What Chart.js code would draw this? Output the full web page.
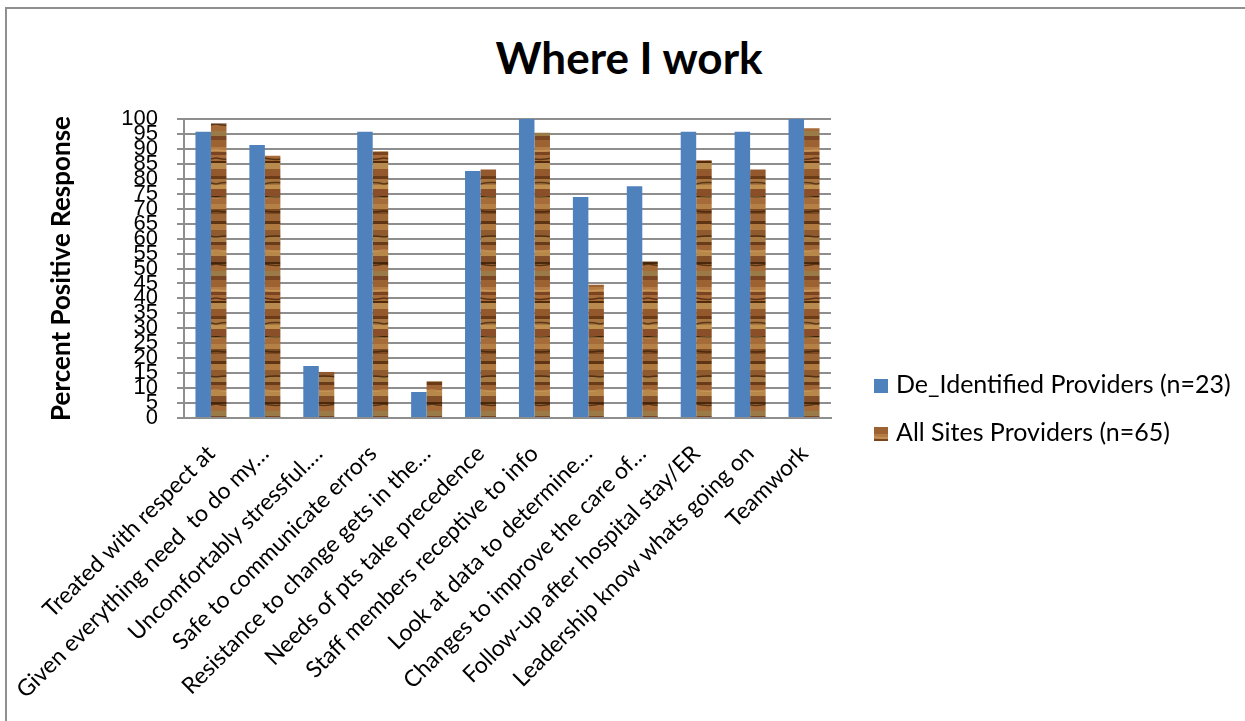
<!DOCTYPE html>
<html>
<head>
<meta charset="utf-8">
<script src="https://cdn.jsdelivr.net/npm/chart.js@4.4.1/dist/chart.umd.min.js"></script>
<style>
  html, body { margin: 0; padding: 0; background: #fff; }
  #wrap { position: relative; width: 1245px; height: 721px; overflow: hidden; }
  #frame { position: absolute; left: 5px; top: 7px; right: -10px; bottom: -10px;
           border-left: 2px solid #8f8f8f; border-top: 2px solid #8f8f8f; }
  #title { position: absolute; left: 0; width: 1258px; top: 30px; text-align: center;
           font: bold 44px Lato, sans-serif; color: #000; line-height: 54px; }
  #chart { position: absolute; left: 0; top: 0; }
  .legend-row { position: absolute; left: 874px; font: 25px Lato, sans-serif; color: #000;
                white-space: nowrap; line-height: 30px; }
  .swatch { display: inline-block; width: 14px; height: 14px; margin-right: 8px; vertical-align: 0px; }
</style>
</head>
<body>
<div id="wrap">
  <div id="frame"></div>
  <div id="title">Where I work</div>
  <canvas id="chart" width="1245" height="721"></canvas>
  <div class="legend-row" style="top:368px"><span class="swatch" id="sw0"></span><span id="lt0"></span></div>
  <div class="legend-row" style="top:416px"><span class="swatch" id="sw1"></span><span id="lt1"></span></div>
</div>
<script>
// Survey items (x categories)
const categories = [
  'Treated with respect at',
  'Given everything need  to do my…',
  'Uncomfortably stressful.…',
  'Safe to communicate errors',
  'Resistance to change gets in the…',
  'Needs of pts take precedence',
  'Staff members receptive to info',
  'Look at data to determine…',
  'Changes to improve the care of…',
  'Follow-up after hospital stay/ER',
  'Leadership know whats going on',
  'Teamwork'
];

// Series names
const seriesNames = ['De_Identified Providers (n=23)', 'All Sites Providers (n=65)'];

// Percent positive response per item
const deIdentified = [95.7, 91.3, 17.4, 95.7, 8.7, 82.6, 100, 73.9, 77.5, 95.7, 95.7, 100];
const allSites     = [98.5, 87.7, 15.4, 89.2, 12.3, 83.1, 95.4, 44.6, 52.3, 86.2, 83.1, 96.9];

// Y axis ticks
const yTicks = [0, 5, 10, 15, 20, 25, 30, 35, 40, 45, 50, 55, 60, 65, 70, 75, 80, 85, 90, 95, 100];

// Wood-grain fill for the second series
function makeWood() {
  const bands = [
    ['#9c6232', 7], ['#b47b45', 5], ['#7a4420', 3], ['#a86a38', 6], ['#4f2a0c', 2],
    ['#b98a4e', 6], ['#94582d', 7], ['#6b3a17', 3], ['#a8743f', 6], ['#c0904f', 4],
    ['#8a4f28', 7], ['#3f2208', 2], ['#a56c3a', 6], ['#b58046', 5], ['#7d4a22', 5],
    ['#9b6535', 7], ['#5f3412', 3], ['#b0793f', 6], ['#8f5a2e', 7], ['#a87b44', 5],
    ['#6a3b18', 3], ['#a06535', 6], ['#b8874a', 5], ['#84502a', 6], ['#4a280c', 2],
    ['#a46a38', 7], ['#9a7a46', 5], ['#7b4624', 4]
  ];
  const total = bands.reduce((s, b) => s + b[1], 0);
  const c = document.createElement('canvas');
  c.width = 24; c.height = total;
  const g = c.getContext('2d');
  let y = 0;
  for (const [col, h] of bands) {
    g.fillStyle = col;
    g.fillRect(0, y, c.width, h);
    y += h;
  }
  // wavy dark grain lines
  g.strokeStyle = 'rgba(55,28,6,0.7)';
  g.lineWidth = 1.5;
  [[18, 3], [44, -3], [71, 2], [97, -2], [124, 3]].forEach(([yy, d]) => {
    g.beginPath();
    g.moveTo(0, yy);
    g.quadraticCurveTo(12, yy + d, 24, yy);
    g.stroke();
  });
  // light highlights
  g.strokeStyle = 'rgba(220,175,105,0.5)';
  [[10, 2], [58, -2], [110, 2]].forEach(([yy, d]) => {
    g.beginPath();
    g.moveTo(0, yy);
    g.quadraticCurveTo(12, yy + d, 24, yy);
    g.stroke();
  });
  return c;
}

const woodCanvas = makeWood();
const ctx = document.getElementById('chart').getContext('2d');
const wood = ctx.createPattern(woodCanvas, 'repeat');
const blue = '#4f81bd';

// HTML legend
document.getElementById('lt0').textContent = seriesNames[0];
document.getElementById('lt1').textContent = seriesNames[1];
document.getElementById('sw0').style.background = blue;
document.getElementById('sw1').style.background = 'url(' + woodCanvas.toDataURL() + ')';

const gridColor = '#8e8e8e';

new Chart(ctx, {
  type: 'bar',
  data: {
    labels: categories,
    datasets: [
      { label: seriesNames[0], data: deIdentified, backgroundColor: blue,
        categoryPercentage: 0.575, barPercentage: 1.0 },
      { label: seriesNames[1], data: allSites, backgroundColor: wood,
        categoryPercentage: 0.575, barPercentage: 1.0 }
    ]
  },
  options: {
    responsive: false,
    animation: false,
    layout: { padding: { left: 40, right: 414, top: 119, bottom: 0 } },
    plugins: {
      legend: { display: false },
      title: { display: false },
      tooltip: { enabled: false }
    },
    scales: {
      x: {
        grid: { display: false, drawTicks: false },
        border: { display: true, color: gridColor, width: 2 },
        ticks: {
          autoSkip: false, maxRotation: 45, minRotation: 45,
          color: '#000', padding: 22,
          font: { family: 'Lato', size: 23 }
        },
        afterFit: s => { s.height = 303; }
      },
      y: {
        min: 0, max: 100,
        afterBuildTicks: s => { s.ticks = yTicks.map(v => ({ value: v })); },
        grid: { color: gridColor, lineWidth: 2, tickLength: 7, drawTicks: true },
        border: { display: true, color: gridColor, width: 2 },
        ticks: {
          autoSkip: false, color: '#000', padding: 19,
          font: { family: 'Liberation Sans', size: 22 }
        },
        title: {
          display: true, text: 'Percent Positive Response', color: '#000',
          font: { family: 'Lato', size: 26, weight: 'bold' },
          padding: { top: 6, bottom: 0 }
        },
        afterFit: s => { s.width = 144; }
      }
    }
  }
});
</script>
</body>
</html>
